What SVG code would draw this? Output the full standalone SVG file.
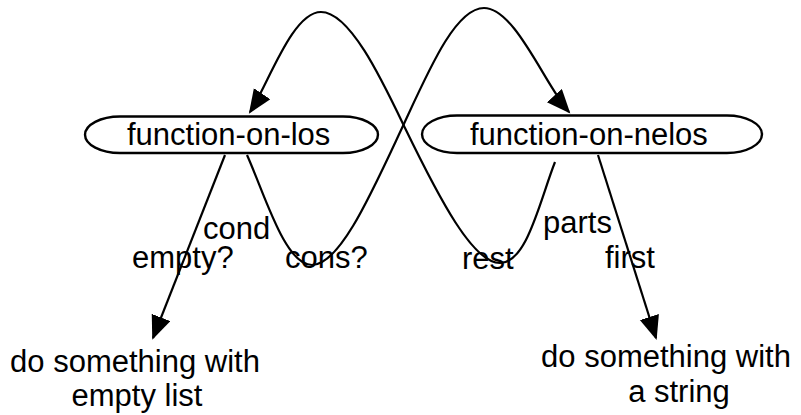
<svg xmlns="http://www.w3.org/2000/svg" width="801" height="415" viewBox="0 0 801 415">
  <style>
    .node { fill: #ffffff; stroke: #000000; stroke-width: 2.4; }
    .edge { fill: none; stroke: #000000; stroke-width: 2.2; }
    text { font-family: "Liberation Sans", Arial, Helvetica, sans-serif; font-size: 31px; fill: #000000; }
    .mid { text-anchor: middle; }
  </style>
  <defs>
    <marker id="arrow" markerUnits="userSpaceOnUse" markerWidth="30" markerHeight="24" refX="22" refY="10" orient="auto">
      <path d="M0,0 L24,10 L0,20 Z" fill="#000000"/>
    </marker>
  </defs>
  <rect width="801" height="415" fill="#ffffff"/>

  <g id="connectors">
    <path class="edge" marker-end="url(#arrow)" d="M 555,162 C 540,200 527,263 500,263 C 473,263 440,200 405,128 C 382,80 350,12 321,12 C 292,12 268,85 250,112"/>
    <path class="edge" marker-end="url(#arrow)" d="M 247,155 C 265,195 285,265 312,265 C 340,265 372,192 402,128 C 428,72 455,8 484,8 C 515,8 545,85 569,112"/>
    <path class="edge" marker-end="url(#arrow)" d="M 225,155 L 153,338"/>
    <path class="edge" marker-end="url(#arrow)" d="M 598,155 L 656,338"/>
  </g>

  <g id="node-function-on-los">
    <path class="node" d="M 120,116.5 H 343 A 35 18.25 0 0 1 343,153 H 120 A 35 18.25 0 0 1 120,116.5 Z"/>
    <text x="127" y="145">function-on-los</text>
  </g>

  <g id="node-function-on-nelos">
    <path class="node" d="M 457,115.5 H 727 A 35 18.75 0 0 1 727,153 H 457 A 35 18.75 0 0 1 457,115.5 Z"/>
    <text x="470" y="145">function-on-nelos</text>
  </g>

  <g id="node-empty-list">
    <text class="mid" x="135" y="372">do something with</text>
    <text class="mid" x="137" y="406">empty list</text>
  </g>

  <g id="node-string">
    <text class="mid" x="666" y="367">do something with</text>
    <text class="mid" x="679" y="402">a string</text>
  </g>

  <g id="edge-labels">
    <text x="203" y="239">cond</text>
    <text x="132" y="268">empty?</text>
    <text x="285" y="268">cons?</text>
    <text x="543" y="233">parts</text>
    <text x="605" y="268">first</text>
    <text x="462" y="269">rest</text>
  </g>
</svg>
